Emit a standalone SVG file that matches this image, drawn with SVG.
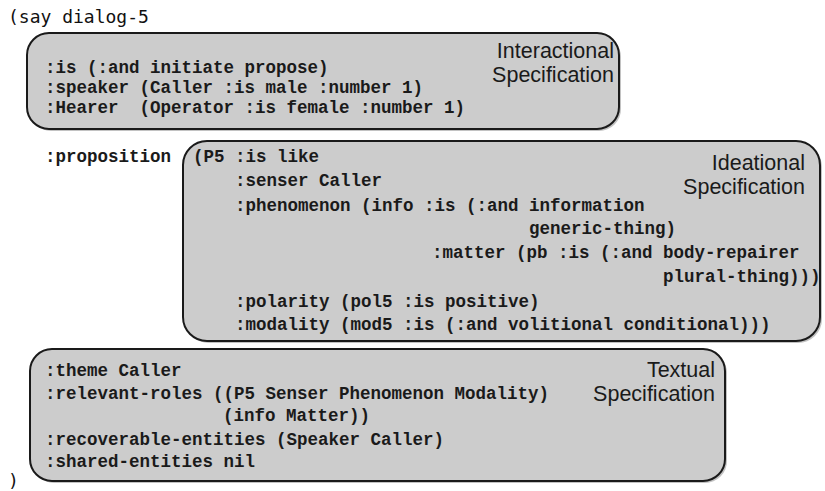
<svg xmlns="http://www.w3.org/2000/svg" width="825" height="491" viewBox="0 0 825 491">
<style>
.box{fill:#cccccc;stroke:#1a1a1a;stroke-width:2}
.shadow{fill:#999999;opacity:0.6}
.code{font-family:"Liberation Mono","Courier New",monospace;font-weight:bold;font-size:17.5px;fill:#1a1a1a;white-space:pre}
.lbl{font-family:"Liberation Sans",Arial,sans-serif;font-size:21.5px;fill:#1a1a1a;text-anchor:end}
.lisp{font-family:"DejaVu Sans Mono",monospace;font-size:18px;fill:#111}
</style>
<rect width="825" height="491" fill="#ffffff"/>
<text class="lisp" x="8" y="23">(say dialog-5</text>
<g id="interactional">
<rect class="shadow" x="29" y="35" width="592" height="96" rx="22"/>
<rect class="box" x="27" y="33" width="592" height="96" rx="22"/>
<text class="lbl" x="614" y="58">Interactional</text>
<text class="lbl" x="614" y="82">Specification</text>
<text class="code" x="45" y="73" xml:space="preserve">:is (:and initiate propose)</text>
<text class="code" x="45" y="93" xml:space="preserve">:speaker (Caller :is male :number 1)</text>
<text class="code" x="45" y="113" xml:space="preserve">:Hearer  (Operator :is female :number 1)</text>
</g>
<text class="code" x="45" y="162">:proposition</text>
<g id="ideational">
<rect class="shadow" x="185" y="143" width="637" height="200" rx="24"/>
<rect class="box" x="183" y="141" width="637" height="200" rx="24"/>
<text class="lbl" x="805" y="170">Ideational</text>
<text class="lbl" x="805" y="194">Specification</text>
<text class="code" x="193" y="162" xml:space="preserve">(P5 :is like</text>
<text class="code" x="235" y="186" xml:space="preserve">:senser Caller</text>
<text class="code" x="235" y="211" xml:space="preserve">:phenomenon (info :is (:and information</text>
<text class="code" x="529" y="234" xml:space="preserve">generic-thing)</text>
<text class="code" x="432" y="258" xml:space="preserve">:matter (pb :is (:and body-repairer</text>
<text class="code" x="663" y="282" xml:space="preserve">plural-thing)))</text>
<text class="code" x="235" y="307" xml:space="preserve">:polarity (pol5 :is positive)</text>
<text class="code" x="235" y="330" xml:space="preserve">:modality (mod5 :is (:and volitional conditional)))</text>
</g>
<g id="textual">
<rect class="shadow" x="32" y="351" width="695" height="132" rx="22"/>
<rect class="box" x="30" y="349" width="695" height="132" rx="22"/>
<text class="lbl" x="715" y="377">Textual</text>
<text class="lbl" x="715" y="401">Specification</text>
<text class="code" x="45" y="376" xml:space="preserve">:theme Caller</text>
<text class="code" x="45" y="399" xml:space="preserve">:relevant-roles ((P5 Senser Phenomenon Modality)</text>
<text class="code" x="223" y="421" xml:space="preserve">(info Matter))</text>
<text class="code" x="45" y="445" xml:space="preserve">:recoverable-entities (Speaker Caller)</text>
<text class="code" x="45" y="467" xml:space="preserve">:shared-entities nil</text>
</g>
<text class="lisp" x="8" y="487">)</text>
<g id="connectors"/>
</svg>
